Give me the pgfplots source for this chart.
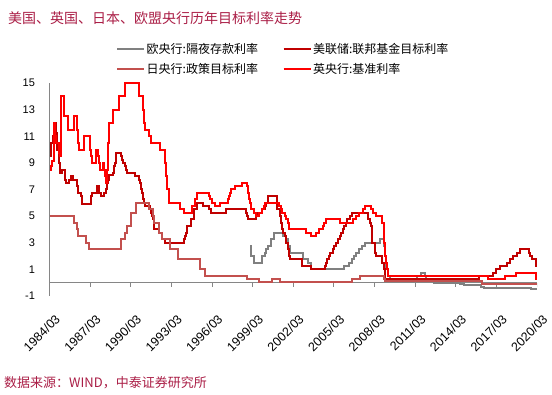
\documentclass[border=0pt]{standalone}
\usepackage{fontspec}
\setmainfont{Liberation Sans}
\newfontfamily\cjk{Noto Sans CJK SC}
\usepackage{pgfplots}
\pgfplotsset{compat=1.18}
\definecolor{axisgray}{RGB}{134,134,134}
\definecolor{ecbgray}{RGB}{128,128,128}
\definecolor{fedred}{RGB}{192,0,0}
\definecolor{bojred}{RGB}{195,80,78}
\definecolor{boered}{RGB}{255,0,0}
\definecolor{titlecol}{RGB}{170,30,70}
\begin{document}
\begin{tikzpicture}[x=1pt,y=1pt]
\useasboundingbox (0,0) rectangle (552,-395);
\node[anchor=west, font=\cjk\fontsize{14}{16}\selectfont, text=titlecol, inner sep=0pt] at (8,-18) {美国、英国、日本、欧盟央行历年目标利率走势};
\node[anchor=west, font=\cjk\fontsize{13}{15}\selectfont, text=titlecol, inner sep=0pt] at (4,-383) {数据来源：WIND，中泰证券研究所};
\begin{axis}[
  at={(49.5pt,-296pt)}, anchor=south west,
  scale only axis, width=487.5pt, height=213pt,
  xmin=1984.1667, xmax=2020.1667, ymin=-1, ymax=15,
  axis y line*=left, axis x line*=bottom,
  x axis line style={draw=none},
  y axis line style={draw=axisgray, line width=0.8pt},
  ytick={-1,1,3,5,7,9,11,13,15},
  tick align=outside,
  major tick length=4pt,
  tick style={draw=none},
  xtick={1984.1667,1987.1667,1990.1667,1993.1667,1996.1667,1999.1667,2002.1667,2005.1667,2008.1667,2011.1667,2014.1667,2017.1667,2020.1667},
  xticklabels={1984/03,1987/03,1990/03,1993/03,1996/03,1999/03,2002/03,2005/03,2008/03,2011/03,2014/03,2017/03,2020/03},
  xticklabel style={rotate=45, anchor=north east, inner sep=1pt, yshift=-12pt, xshift=-5pt, font=\fontsize{12.5}{14}\selectfont},
  yticklabel style={xshift=-7pt, font=\fontsize{11}{13}\selectfont},
  /pgf/number format/assume math mode=true,
  legend columns=2,
  legend cell align=left,
  legend image code/.code={\draw[#1] (0pt,0pt) -- (27pt,0pt);},
  legend style={draw=none, fill=none, at={(axis description cs:0.1364,1.195)}, anchor=north west,
    font=\cjk\fontsize{12}{14}\selectfont, inner sep=0pt, row sep=5pt,
    nodes={inner sep=1.5pt},
    /tikz/every even column/.append style={column sep=23pt}},
]
\draw[axisgray, line width=0.8pt] (axis cs:1984.1667,0) -- (axis cs:2020.1667,0);
\pgfplotsinvokeforeach{1984.1667,1987.1667,1990.1667,1993.1667,1996.1667,1999.1667,2002.1667,2005.1667,2008.1667,2011.1667,2014.1667,2017.1667,2020.1667}{
  \draw[axisgray, line width=0.8pt] (axis cs:#1,0) -- ++(0pt,-4pt);
}
\pgfplotsinvokeforeach{-1,1,3,5,7,9,11,13,15}{
  \draw[axisgray, line width=0.8pt] (axis cs:1984.1667,#1) -- ++(-4pt,0pt);
}
% ECB deposit rate
\addplot[const plot, ecbgray, line width=2pt] coordinates {
(1999.0,2.75)(1999.083,2.0)(1999.25,1.5)(1999.833,2.0)(2000.083,2.25)(2000.167,2.5)(2000.333,2.75)(2000.5,3.25)(2000.75,3.75)(2001.417,3.5)(2001.667,3.25)(2001.75,2.75)(2001.917,2.25)(2002.917,1.75)(2003.25,1.5)(2003.5,1.0)(2005.917,1.25)(2006.25,1.5)(2006.5,1.75)(2006.667,2.0)(2006.833,2.25)(2007.0,2.5)(2007.25,2.75)(2007.5,3.0)(2008.583,3.25)(2008.833,2.75)(2008.917,2.0)(2009.0,1.0)(2009.167,0.5)(2009.333,0.25)(2011.333,0.5)(2011.583,0.75)(2011.917,0.5)(2012.0,0.25)(2012.583,0.0)(2014.5,-0.1)(2014.75,-0.2)(2016.0,-0.3)(2016.25,-0.4)(2019.75,-0.5)(2020.167,-0.5)
};
\addlegendentry{欧央行:隔夜存款利率}
% Fed funds target
\addplot[const plot, fedred, line width=2pt] coordinates {
(1984.167,9.5)(1984.25,10.5)(1984.417,11.0)(1984.5,11.5)(1984.583,12.0)(1984.667,11.25)(1984.75,10.0)(1984.833,9.0)(1984.917,8.25)(1985.083,8.5)(1985.333,7.75)(1985.417,7.5)(1985.583,7.75)(1985.75,8.0)(1985.917,7.75)(1986.167,7.25)(1986.25,6.75)(1986.5,6.5)(1986.583,5.875)(1987.25,6.5)(1987.333,6.75)(1987.667,7.25)(1987.833,6.75)(1988.0,6.5)(1988.167,6.75)(1988.333,7.0)(1988.417,7.5)(1988.5,7.75)(1988.583,8.125)(1988.833,8.25)(1988.917,8.75)(1989.0,9.0)(1989.083,9.75)(1989.417,9.5)(1989.5,9.25)(1989.583,9.0)(1989.75,8.75)(1989.833,8.5)(1989.917,8.25)(1990.5,8.0)(1990.75,7.75)(1990.833,7.5)(1990.917,7.0)(1991.0,6.75)(1991.083,6.25)(1991.167,6.0)(1991.25,5.75)(1991.583,5.5)(1991.667,5.25)(1991.75,5.0)(1991.833,4.75)(1991.917,4.0)(1992.25,3.75)(1992.5,3.25)(1992.667,3.0)(1994.083,3.25)(1994.167,3.5)(1994.25,3.75)(1994.333,4.25)(1994.583,4.75)(1994.833,5.5)(1995.083,6.0)(1995.5,5.75)(1995.917,5.5)(1996.083,5.25)(1997.167,5.5)(1998.667,5.25)(1998.75,5.0)(1998.833,4.75)(1999.417,5.0)(1999.583,5.25)(1999.833,5.5)(2000.083,5.75)(2000.167,6.0)(2000.333,6.5)(2001.0,5.5)(2001.167,5.0)(2001.25,4.5)(2001.333,4.0)(2001.417,3.75)(2001.583,3.5)(2001.667,3.0)(2001.75,2.5)(2001.833,2.0)(2001.917,1.75)(2002.833,1.25)(2003.5,1.0)(2004.5,1.25)(2004.583,1.5)(2004.667,1.75)(2004.833,2.0)(2004.917,2.25)(2005.083,2.5)(2005.167,2.75)(2005.333,3.0)(2005.5,3.25)(2005.583,3.5)(2005.667,3.75)(2005.833,4.0)(2005.917,4.25)(2006.083,4.5)(2006.167,4.75)(2006.333,5.0)(2006.5,5.25)(2007.667,4.75)(2007.833,4.5)(2007.917,4.25)(2008.0,3.0)(2008.167,2.25)(2008.25,2.0)(2008.75,1.5)(2008.833,1.0)(2008.917,0.25)(2015.917,0.5)(2016.917,0.75)(2017.167,1.0)(2017.417,1.25)(2017.917,1.5)(2018.167,1.75)(2018.417,2.0)(2018.667,2.25)(2018.917,2.5)(2019.583,2.25)(2019.667,2.0)(2019.833,1.75)(2020.083,1.25)(2020.167,1.25)
};
\addlegendentry{美联储:联邦基金目标利率}
% BoJ policy rate
\addplot[const plot, bojred, line width=2pt] coordinates {
(1984.167,5.0)(1986.0,4.5)(1986.167,4.0)(1986.25,3.5)(1986.833,3.0)(1987.083,2.5)(1989.417,3.25)(1989.75,3.75)(1989.917,4.25)(1990.167,5.25)(1990.583,6.0)(1991.5,5.5)(1991.833,5.0)(1991.917,4.5)(1992.25,3.75)(1992.5,3.25)(1993.083,2.5)(1993.667,1.75)(1995.25,1.0)(1995.667,0.5)(1998.75,0.25)(1999.667,0.03)(2000.583,0.25)(2001.167,0.02)(2006.5,0.25)(2007.083,0.5)(2008.833,0.3)(2008.917,0.1)(2016.083,-0.1)(2020.167,-0.1)
};
\addlegendentry{日央行:政策目标利率}
% BoE bank rate
\addplot[const plot, boered, line width=2pt] coordinates {
(1984.167,8.5)(1984.25,8.75)(1984.333,9.125)(1984.5,12.0)(1984.583,11.0)(1984.667,10.5)(1984.833,9.75)(1984.917,9.5)(1985.0,14.0)(1985.25,12.5)(1985.5,11.5)(1986.0,12.5)(1986.167,11.5)(1986.25,10.5)(1986.333,10.0)(1986.75,11.0)(1987.167,10.0)(1987.25,9.5)(1987.333,9.0)(1987.583,10.0)(1987.75,9.5)(1987.833,9.0)(1987.917,8.5)(1988.083,9.0)(1988.167,8.5)(1988.25,8.0)(1988.333,7.5)(1988.417,8.5)(1988.5,10.5)(1988.583,12.0)(1988.833,13.0)(1989.333,14.0)(1989.75,15.0)(1990.75,14.0)(1991.083,13.0)(1991.167,12.0)(1991.25,11.5)(1991.5,11.0)(1991.667,10.5)(1992.333,10.0)(1992.667,9.0)(1992.75,8.0)(1992.833,7.0)(1993.0,6.0)(1993.833,5.5)(1994.083,5.25)(1994.667,5.75)(1994.917,6.25)(1995.083,6.75)(1995.917,6.5)(1996.0,6.25)(1996.167,6.0)(1996.417,5.75)(1996.75,6.0)(1997.333,6.25)(1997.417,6.5)(1997.5,6.75)(1997.583,7.0)(1997.833,7.25)(1998.417,7.5)(1998.75,7.25)(1998.833,6.75)(1998.917,6.25)(1999.0,6.0)(1999.083,5.5)(1999.25,5.25)(1999.417,5.0)(1999.667,5.25)(1999.833,5.5)(2000.0,5.75)(2000.083,6.0)(2001.083,5.75)(2001.25,5.5)(2001.333,5.25)(2001.583,5.0)(2001.667,4.75)(2001.75,4.5)(2001.833,4.0)(2003.083,3.75)(2003.5,3.5)(2003.833,3.75)(2004.083,4.0)(2004.333,4.25)(2004.417,4.5)(2004.583,4.75)(2005.583,4.5)(2006.583,4.75)(2006.833,5.0)(2007.0,5.25)(2007.333,5.5)(2007.5,5.75)(2007.917,5.5)(2008.083,5.25)(2008.25,5.0)(2008.75,4.5)(2008.833,3.0)(2008.917,2.0)(2009.0,1.5)(2009.083,1.0)(2009.167,0.5)(2016.583,0.25)(2017.833,0.5)(2018.583,0.75)(2020.083,0.25)(2020.167,0.25)
};
\addlegendentry{英央行:基准利率}
\end{axis}
\end{tikzpicture}
\end{document}
